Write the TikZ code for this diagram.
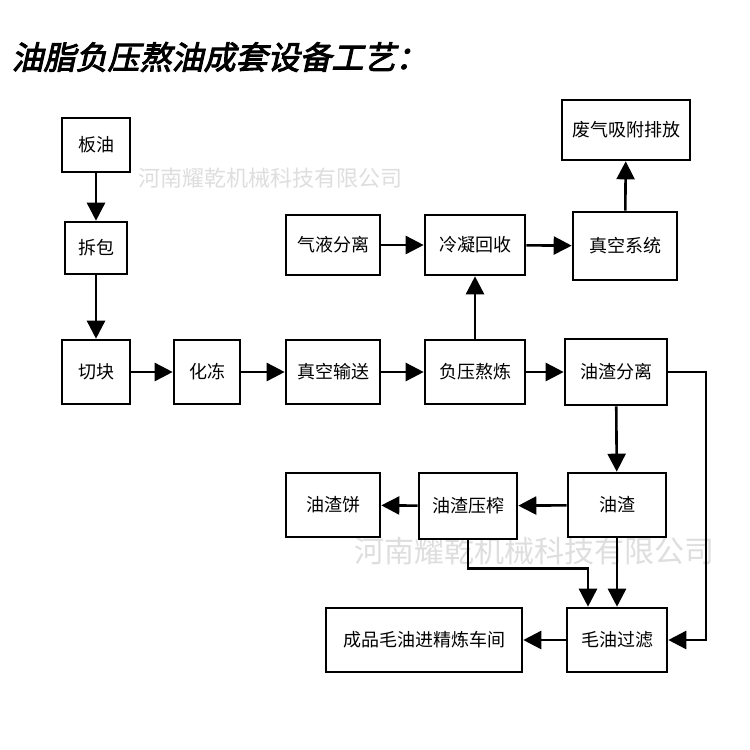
\documentclass[tikz,border=0pt]{standalone}
\usepackage{fontspec}
\newfontfamily\cjk{Noto Sans CJK SC}
\newfontfamily\cjkt{Noto Sans CJK SC}[FakeSlant=0.22,FakeBold=3]
\usetikzlibrary{arrows.meta}
\begin{document}
\begin{tikzpicture}[x=1pt,y=-1pt,
 box/.style={draw,line width=2.6pt,fill=white,minimum height=62pt,inner sep=0pt,font=\cjk\fontsize{18}{18}\selectfont,anchor=center},
 ar/.style={line width=2.6pt,-{Triangle[length=18pt,width=18pt]}},
 wm/.style={text=black!13,font=\cjk\fontsize{22}{22}\selectfont}]
\useasboundingbox (0,0) rectangle (750,750);
\fill[white] (0,0) rectangle (750,750);
\node[anchor=west,font=\cjkt\fontsize{32}{32}\selectfont] (title) at (8,57) {油脂负压熬油成套设备工艺：};
\node[wm] (wm1) at (270,178) {河南耀乾机械科技有限公司};
\node[wm,font=\cjk\fontsize{30}{30}\selectfont] (wm2) at (534,551) {河南耀乾机械科技有限公司};
\node[box,minimum width=68pt,minimum height=54pt] (a) at (96,145) {板油};
\node[box,minimum width=62pt,minimum height=52pt] (b) at (96,248) {拆包};
\node[box,minimum width=68pt,minimum height=64pt] (c) at (96,372) {切块};
\node[box,minimum width=66pt,minimum height=64pt] (d) at (207,372) {化冻};
\node[box,minimum width=94pt,minimum height=64pt] (e) at (333,372) {真空输送};
\node[box,minimum width=100pt,minimum height=64pt] (f) at (475,372) {负压熬炼};
\node[box,minimum width=102pt,minimum height=66pt] (g) at (616,372) {油渣分离};
\node[box,minimum width=94pt,minimum height=60pt] (h) at (333,245) {气液分离};
\node[box,minimum width=100pt,minimum height=60pt] (i) at (475,245) {冷凝回收};
\node[box,minimum width=104pt,minimum height=68pt] (j) at (625,246) {真空系统};
\node[box,minimum width=128pt,minimum height=60pt] (k) at (626,130) {废气吸附排放};
\node[box,minimum width=98pt,minimum height=64pt] (l) at (617,505) {油渣};
\node[box,minimum width=98pt,minimum height=66pt] (m) at (468,506) {油渣压榨};
\node[box,minimum width=94pt,minimum height=64pt] (n) at (333,505) {油渣饼};
\node[box,minimum width=100pt,minimum height=64pt] (o) at (617,640) {毛油过滤};
\node[box,minimum width=196pt,minimum height=64pt] (p) at (424,640) {成品毛油进精炼车间};
\draw[ar] (a) -- (b);
\draw[ar] (b) -- (c);
\draw[ar] (c) -- (d);
\draw[ar] (d) -- (e);
\draw[ar] (e) -- (f);
\draw[ar] (f) -- (g);
\draw[ar] (f) -- (i);
\draw[ar] (h) -- (i);
\draw[ar] (i) -- (j);
\draw[ar] (j) -- (k);
\draw[ar] (g) -- (l);
\draw[ar] (l) -- (m);
\draw[ar] (m) -- (n);
\draw[ar] (o) -- (p);
\draw[ar] (l) -- (o);
\draw[ar] (m.south) -- ++(0,28) -| ([xshift=-29pt]o.north);
\draw[ar] (g.east) -- (706,372) |- (o.east);
\end{tikzpicture}
\end{document}
